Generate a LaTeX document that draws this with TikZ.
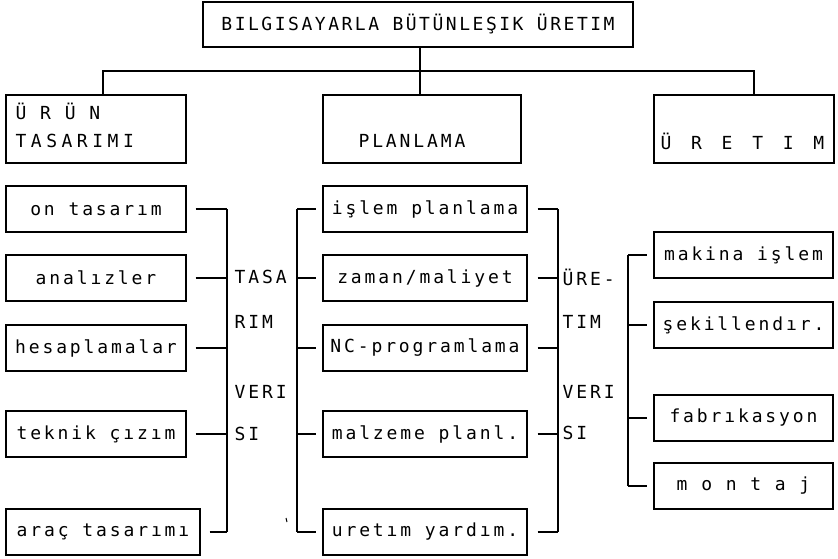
\documentclass[tikz,border=0pt]{standalone}
\usepackage{fontspec}
\newfontfamily\plotfont{DejaVu Sans Mono}[LetterSpace=16]
\newfontfamily\titlefont{DejaVu Sans Mono}[LetterSpace=14]
\begin{document}
\begin{tikzpicture}[x=1pt,y=-1pt,
  every path/.style={line width=1.3pt},
  txt/.style={font=\fontsize{18}{21}\plotfont},
  box/.style={draw, line width=1.3pt, inner sep=0pt, minimum height=46pt, txt},
  bigbox/.style={draw, line width=1.3pt, inner sep=0pt, minimum height=68pt},
  lbl/.style={anchor=west, inner sep=0pt, txt}]
\useasboundingbox (0,0) rectangle (838,559);

% top
\node[box, minimum width=430pt, minimum height=45pt, font=\fontsize{18}{21}\titlefont] (top) at (418,24.5) {BILGISAYARLA BÜTÜNLEŞIK ÜRETIM};

% level 2
\node[bigbox, minimum width=180pt] (urun) at (96,129) {};
\node[bigbox, minimum width=198pt] (plan) at (422,129) {};
\node[bigbox, minimum width=180pt] (uret) at (744,129) {};
\node[lbl] (urunA) at (15,111) {Ü R Ü N};
\node[lbl] (urunB) at (15,141) {T\hspace{4.5pt}A\hspace{4.5pt}S\hspace{4.5pt}A\hspace{4.5pt}R\hspace{4.5pt}I\hspace{4.5pt}M\hspace{4.5pt}I};
\node[txt, inner sep=0pt] (planT) at (412,141) {PLANLAMA};
\node[lbl] (uretT) at (660,141) {Ü\hspace{6pt} R\hspace{6pt} E\hspace{6pt} T\hspace{6pt} I\hspace{6pt} M};

\coordinate (hub) at (420,71);
\draw (top.south -| hub) -- (plan.north -| hub);
\draw ([xshift=7pt]urun.north) |- (hub) -| ([xshift=10pt]uret.north);

% left column
\node[box, minimum width=180pt] (on)    at (96,209) {on tasarım};
\node[box, minimum width=180pt] (anal)  at (96,278) {analızler};
\node[box, minimum width=180pt] (hesap) at (96,348) {hesaplamalar};
\node[box, minimum width=180pt] (tekn)  at (96,434) {teknik çızım};
\node[box, minimum width=194pt] (arac)  at (103,532) {araç tasarımı};

\coordinate (lbus) at (227,0);
\foreach \b in {on,anal,hesap,tekn,arac}
  \draw ([xshift=9pt]\b.east) -- (\b.east -| lbus);
\draw (on.east -| lbus) -- (arac.east -| lbus);

\node[lbl] (l1) at (234,277) {TASA};
\node[lbl] (l2) at (234,322) {RIM};
\node[lbl] (l3) at (234,392) {VERI};
\node[lbl] (l4) at (234,434) {SI};

% middle column
\node[box, minimum width=204pt] (islem) at (425,209) {işlem planlama};
\node[box, minimum width=204pt] (zaman) at (425,278) {zaman/maliyet\hspace{14pt}};
\node[box, minimum width=204pt] (ncp)   at (425,348) {NC-programlama};
\node[box, minimum width=204pt] (malz)  at (425,434) {malzeme planl.};
\node[box, minimum width=204pt] (uy)    at (425,532) {uretım yardım.};

\coordinate (mbl) at (297,0);
\coordinate (mbr) at (558,0);
\foreach \b in {islem,zaman,ncp,malz,uy} {
  \draw (\b.west -| mbl) -- ([xshift=-6pt]\b.west);
  \draw ([xshift=10pt]\b.east) -- (\b.east -| mbr);
}
\draw (islem.west -| mbl) -- (uy.west -| mbl);
\draw (islem.east -| mbr) -- (uy.east -| mbr);
\draw[line width=1pt] (286,518) -- (287,522);

\node[lbl] (r1) at (562,277) {ÜRE-};
\node[lbl] (r2) at (562,322) {TIM};
\node[lbl] (r3) at (562,392) {VERI};
\node[lbl] (r4) at (562,433) {SI};

% right column
\node[box, minimum width=179pt] (mak)  at (743.5,255) {makina işlem};
\node[box, minimum width=179pt] (sek)  at (743.5,325) {şekillendır.};
\node[box, minimum width=179pt] (fab)  at (743.5,418) {fabrıkasyon\hspace{8pt}};
\node[box, minimum width=179pt] (mon)  at (743.5,486) {m o n t a j\hspace{8pt}};

\coordinate (rbus) at (628,0);
\foreach \b in {mak,sek,fab,mon}
  \draw (\b.west -| rbus) -- ([xshift=-6pt]\b.west);
\draw (mak.west -| rbus) -- (mon.west -| rbus);
\end{tikzpicture}
\end{document}
